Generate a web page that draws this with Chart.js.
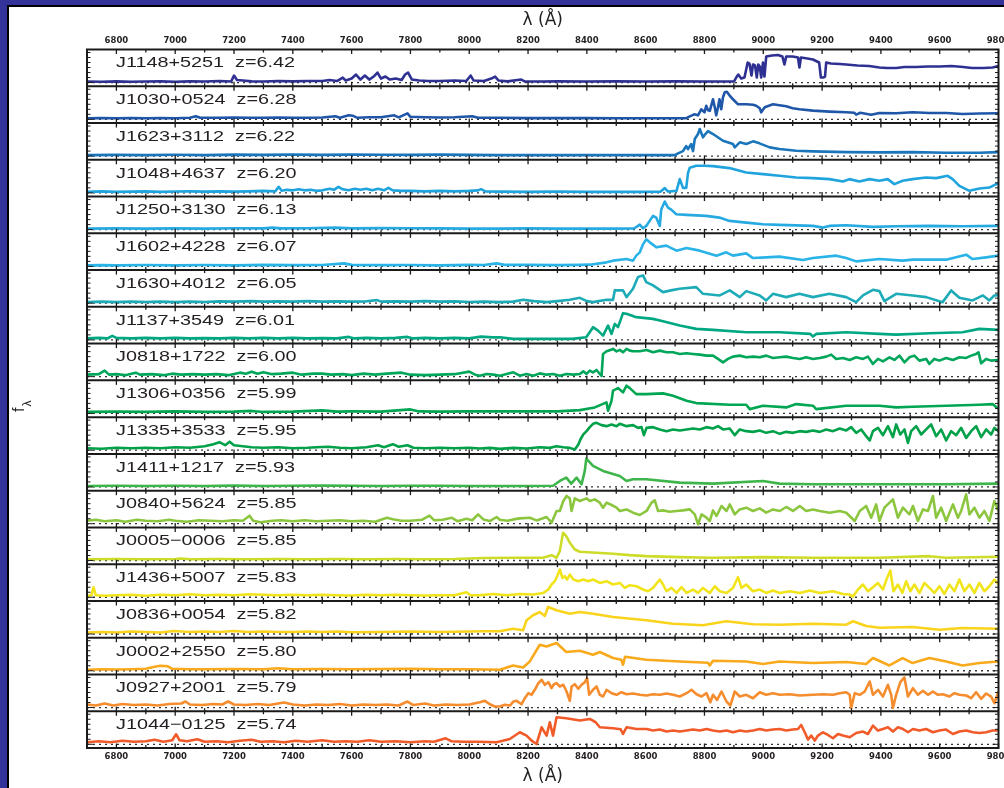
<!DOCTYPE html>
<html><head><meta charset="utf-8">
<script src="https://cdn.jsdelivr.net/npm/chart.js@4.4.1/dist/chart.umd.min.js"></script>
<style>
html,body{margin:0;padding:0;width:1004px;height:788px;overflow:hidden;background:#fff}
#frame{position:absolute;left:0;top:0;width:1004px;height:788px;background:#333399}
#inner{position:absolute;left:7px;top:5px;right:0;bottom:0;background:#fff;border-left:2px solid #000;border-top:2px solid #000}
#c{position:absolute;left:0;top:0}
</style></head>
<body><div id="frame"><div id="inner"></div></div>
<canvas id="c" width="1004" height="788"></canvas>
<script>
// ---- data ----
const tickValues = [6800,7000,7200,7400,7600,7800,8000,8200,8400,8600,8800,9000,9200,9400,9600,9800];
const quasarNames = ['J1148+5251','J1030+0524','J1623+3112','J1048+4637','J1250+3130','J1602+4228','J1630+4012','J1137+3549','J0818+1722','J1306+0356','J1335+3533','J1411+1217','J0840+5624','J0005\u22120006','J1436+5007','J0836+0054','J0002+2550','J0927+2001','J1044\u22120125'];
const redshifts = ['6.42','6.28','6.22','6.20','6.13','6.07','6.05','6.01','6.00','5.99','5.95','5.93','5.85','5.85','5.83','5.82','5.80','5.79','5.74'];
const lineColors = ['#2e3192','#1f56a8','#1b75bb','#20a4de','#27aae1','#29b3e6','#1eabb8','#00a882','#00a659','#00a651','#00a149','#3db54a','#8cc63f','#cddc29','#f2e41b','#fad31c','#f9a91c','#f58c2e','#f15a29'];

const J1148p5251 = [[6700,1],[6750,0.8],[6800,1.2],[6850,0.8],[6900,1],[6950,1.2],[7000,0.8],[7050,1.2],[7100,1],[7150,1.5],[7190,1],[7200,7],[7210,2.5],[7230,2],[7260,1.2],[7300,1],[7350,1.5],[7400,1.2],[7450,1.5],[7500,1.5],[7525,2.5],[7550,1.5],[7570,5],[7580,2],[7600,4],[7615,8],[7630,3],[7645,7],[7660,3],[7675,6],[7688,10],[7700,4],[7715,6],[7730,3],[7750,4],[7770,2.5],[7782,8],[7792,10],[7805,3],[7830,2],[7860,1.5],[7900,1.5],[7950,2],[7990,1.5],[8005,7],[8015,2],[8050,1.5],[8075,4],[8088,6],[8100,2],[8130,1.2],[8177,3],[8190,1],[8250,1],[8300,1.2],[8400,1],[8500,1.2],[8600,1],[8700,1.2],[8800,1],[8900,1],[8908,5],[8915,8],[8925,4],[8936,5],[8947,20],[8953,19],[8960,7],[8965,18],[8972,17],[8978,5],[8983,18],[8988,16],[8993,5],[8999,20],[9004,6],[9010,26],[9030,27],[9050,27.5],[9065,26],[9072,18],[9078,26],[9100,26],[9118,25],[9123,15],[9128,25],[9150,24],[9169,23],[9190,20],[9196,5],[9204,5],[9210,6],[9214,20],[9230,19],[9260,18.5],[9282,18],[9320,17],[9360,16.5],[9395,15],[9420,14.5],[9452,14.5],[9480,15.5],[9520,15.5],[9560,16],[9600,16],[9640,16.5],[9680,15.5],[9710,14.5],[9750,14.5],[9780,15],[9800,16.5]];
const J1030p0524 = [[6700,1],[6750,1.2],[6800,1],[6850,1.2],[6900,1],[6950,1.3],[7000,1],[7050,1.5],[7070,3],[7085,1.5],[7150,1.5],[7200,1.8],[7250,1.5],[7300,1.5],[7350,1.8],[7400,1.5],[7450,1.5],[7500,1.8],[7545,3],[7560,1.5],[7590,4],[7605,3.5],[7620,1.5],[7660,2],[7700,2],[7745,4],[7760,2],[7790,6],[7800,2.5],[7850,2],[7900,1.8],[7950,2],[8010,3],[8030,1.5],[8100,1.5],[8200,1.2],[8300,1.2],[8400,1.2],[8500,1],[8600,1],[8700,1],[8738,1.2],[8750,3],[8765,5],[8778,4],[8789,10],[8800,7],[8806,13.5],[8812,9],[8818,8.5],[8829,20],[8835,12],[8840,4],[8846,12],[8851,20],[8857,10],[8863,22],[8869,27],[8876,27.5],[8885,24],[8897,20],[8914,15],[8942,15],[8965,14.5],[8976,13.5],[8988,11],[8993,7],[9000,10],[9005,12],[9033,15],[9055,14],[9078,13],[9100,11],[9123,10],[9169,8.7],[9225,7.7],[9282,7],[9310,6.5],[9316,4.7],[9330,6.5],[9367,4.5],[9395,6.3],[9452,6],[9508,7],[9565,6.3],[9622,6.3],[9678,5.3],[9735,5.8],[9800,6]];
const J1623p3112 = [[6700,1],[6800,1.2],[6900,1],[7000,1.3],[7100,1],[7200,1.5],[7300,1.2],[7400,1.5],[7500,1.2],[7600,1.5],[7700,1.3],[7800,1.2],[7900,1.5],[8000,1.2],[8100,1],[8200,1],[8300,1],[8400,1],[8500,1],[8600,1],[8699,1],[8710,2.7],[8727,5],[8738,10],[8744,7],[8755,12],[8761,5],[8767,17],[8778,22],[8784,27],[8795,18.7],[8803,22],[8812,25],[8829,22],[8863,15.3],[8897,12],[8903,8.7],[8920,13.7],[8942,12],[8965,14.7],[8987,12.7],[9022,8.7],[9055,7],[9112,5.3],[9169,4.7],[9282,4],[9395,3.7],[9508,4],[9622,3.3],[9735,3.3],[9800,4]];
const J1048p4637 = [[6700,1],[6750,1.5],[6800,1],[6850,1.2],[6900,1.5],[6950,1],[7000,1.3],[7050,1.5],[7100,1.2],[7150,1.5],[7200,1.2],[7250,1.5],[7300,2],[7340,1.5],[7352,6],[7362,2],[7380,3],[7400,2.5],[7420,3.5],[7440,2.5],[7460,3],[7480,2],[7500,2.5],[7525,4],[7540,3],[7555,6],[7570,3.5],[7590,2.5],[7610,4],[7630,3],[7650,4],[7670,2.5],[7690,4],[7710,2.5],[7725,5],[7740,2.5],[7770,2],[7800,2],[7850,1.5],[7900,2],[7950,1.5],[8000,2],[8030,2.5],[8040,3.7],[8055,1.5],[8100,1.2],[8200,1],[8300,1.2],[8400,1],[8500,1],[8600,1],[8650,1.2],[8665,4.7],[8676,1.3],[8705,2],[8716,13.7],[8727,5],[8738,5],[8744,20],[8750,25],[8772,27],[8800,27],[8829,26.7],[8885,24.7],[8942,20.3],[8999,18.7],[9055,17],[9112,15.3],[9169,14.7],[9225,13.7],[9271,11.3],[9293,13.7],[9327,11.3],[9361,13.7],[9395,12],[9423,13.7],[9446,8.7],[9474,12],[9508,13.7],[9554,15.3],[9588,14.7],[9627,17],[9644,13.7],[9667,7],[9701,2],[9735,4.3],[9769,5.3],[9792,8.7],[9800,9]];
const J1250p3130 = [[6700,1],[6800,1.2],[6900,1],[7000,1.2],[7100,1],[7200,1.3],[7300,1.2],[7330,2],[7360,1.2],[7450,1.3],[7545,2],[7600,1.2],[7700,1.5],[7800,1.3],[7900,1.2],[8000,1],[8100,1],[8200,1.2],[8300,1],[8400,1],[8500,1],[8560,1.2],[8569,2.7],[8580,5],[8591,1.3],[8602,3.7],[8625,13.7],[8636,12],[8648,3.7],[8653,20],[8665,28],[8676,22],[8687,20],[8704,15.3],[8738,14.7],[8806,13.7],[8851,12],[8885,8.7],[8942,7],[8999,5.3],[9055,4.7],[9169,3.7],[9203,2],[9225,3.7],[9282,4.3],[9373,2.7],[9452,3.3],[9565,3.7],[9678,3.3],[9800,3.7]];
const J1602p4228 = [[6700,1],[6750,1.2],[6800,1],[6900,1.3],[7000,1],[7100,1.3],[7200,1],[7300,1.5],[7400,1.2],[7500,1.3],[7575,3],[7600,1.5],[7700,1.2],[7800,1.3],[7900,1],[8000,1.5],[8050,1.3],[8093,3],[8120,1.5],[8200,1.5],[8300,1.2],[8376,1.5],[8410,1.7],[8467,4],[8489,5.7],[8535,7.3],[8557,5.7],[8568,10.7],[8580,14],[8591,22],[8602,27],[8614,24],[8637,19],[8670,20.7],[8705,15.7],[8739,18.3],[8784,15.7],[8841,10.7],[8874,14],[8897,10.7],[8942,13],[8965,8.3],[9010,9],[9055,9.7],[9135,6.3],[9169,8.3],[9248,10.7],[9282,8.3],[9316,5],[9395,7.3],[9474,5.7],[9508,6.7],[9565,6.7],[9622,6.7],[9690,11.7],[9712,7.3],[9758,9],[9800,10.7]];
const J1630p4012 = [[6700,1],[6750,1.5],[6800,1],[6850,1.5],[6900,1.2],[6950,1.5],[7000,1],[7050,1.5],[7100,1.2],[7150,1.8],[7200,1.5],[7260,2],[7300,1.5],[7350,1.8],[7400,1.5],[7450,2],[7500,1.5],[7550,1.8],[7600,1.5],[7650,1.8],[7687,3],[7700,1.5],[7750,1.8],[7800,1.5],[7850,2],[7900,1.5],[7950,1.8],[8000,1.2],[8050,1.5],[8100,1],[8150,1.5],[8183,3.3],[8220,2],[8263,1],[8300,2],[8342,3.3],[8376,5.3],[8400,2],[8421,1],[8467,3.3],[8489,3.3],[8495,12.7],[8523,12.7],[8535,6],[8557,14.3],[8574,26],[8591,27.7],[8602,21],[8625,17.7],[8659,11],[8690,13],[8716,14.3],[8772,16],[8795,9.3],[8852,7.7],[8886,12.7],[8920,6],[8942,12],[8988,7.7],[9010,2.7],[9033,9.3],[9078,6],[9123,9.3],[9169,6],[9225,9.3],[9282,6],[9316,1],[9339,7.7],[9373,13.3],[9395,12],[9412,2],[9452,9.3],[9508,7.7],[9554,6],[9610,1],[9639,12.7],[9667,5.3],[9712,2.7],[9747,7.7],[9769,2.7],[9786,7.7],[9800,8]];
const J1137p3549 = [[6700,1.5],[6740,2],[6770,1.5],[6786,4],[6800,2],[6850,1.5],[6900,2],[6950,1.5],[7000,2],[7050,1.5],[7100,1.8],[7150,1.5],[7200,2],[7250,1.5],[7300,2],[7350,1.5],[7400,2],[7450,1.5],[7500,1.8],[7550,1.5],[7590,3],[7610,1.5],[7650,2],[7700,1.5],[7750,2],[7790,3],[7810,1.5],[7850,2],[7900,1.5],[7950,2],[8000,1.5],[8040,3.3],[8080,2.5],[8104,2.7],[8150,1],[8250,1],[8350,1],[8398,2.7],[8421,12.7],[8438,9.3],[8455,4.3],[8472,14.3],[8484,6],[8495,16],[8506,12.7],[8523,26.7],[8535,26],[8568,22.7],[8625,21],[8659,18.7],[8716,14.3],[8772,11],[8829,10],[8942,7.7],[9055,7.7],[9160,6],[9169,3.3],[9180,6],[9282,7.7],[9395,6],[9452,5.3],[9565,6.7],[9678,7.7],[9735,11],[9800,10]];
const J0818p1722 = [[6700,2],[6740,2.5],[6760,6],[6775,2],[6800,2.5],[6830,1.5],[6866,4],[6880,2],[6920,2.5],[6960,1.5],[6990,3],[7020,2],[7060,2.5],[7100,2],[7140,2.5],[7180,1.5],[7220,4],[7240,3],[7260,5],[7280,3],[7300,4.5],[7330,2.5],[7360,3],[7400,4],[7430,2],[7470,3],[7500,3],[7530,2],[7570,2.5],[7600,1.5],[7640,3],[7680,2],[7720,3],[7770,4],[7800,2],[7850,1.5],[7900,2],[7950,2.5],[8000,5],[8020,2],[8036,1],[8059,2.7],[8082,2],[8104,1],[8127,2.7],[8150,4.3],[8172,1],[8195,2.7],[8218,1],[8240,3.3],[8263,2],[8286,2.7],[8308,1],[8331,2.7],[8354,2],[8376,2.7],[8388,5.3],[8399,2.7],[8410,6],[8421,4.3],[8433,6.7],[8444,2.7],[8450,0.7],[8455,22.7],[8467,25.3],[8480,26.7],[8489,27.7],[8501,25.3],[8512,26.7],[8523,24.3],[8535,27.7],[8546,26],[8557,25.3],[8580,25.3],[8603,26.7],[8625,24.3],[8648,26],[8671,24.3],[8693,24.3],[8716,22.7],[8739,23.3],[8761,22.7],[8784,22],[8807,21],[8829,21],[8846,17.7],[8863,14.3],[8880,17.7],[8897,20],[8920,21],[8942,19.3],[8965,20],[8988,19.3],[9010,21],[9033,18.7],[9056,19.3],[9078,20],[9101,18.7],[9124,17.7],[9146,19.3],[9169,17.7],[9192,18.7],[9214,20],[9231,22],[9248,17.7],[9271,18.7],[9294,16.7],[9316,19.3],[9339,17.7],[9356,20],[9373,12.7],[9390,17.7],[9407,15.3],[9429,19.3],[9446,16.7],[9463,21],[9480,14.3],[9497,19.3],[9514,21],[9531,16],[9554,17.7],[9565,12.7],[9582,17.7],[9599,16],[9622,18.7],[9645,16.7],[9667,19.3],[9690,18.7],[9707,21],[9724,22.7],[9732,24.3],[9741,13.3],[9758,17.7],[9775,16],[9800,16.7]];
const J1306p0356 = [[6700,1.5],[6800,1.8],[6900,1.5],[7000,2],[7100,1.5],[7200,1.8],[7260,2.5],[7300,1.5],[7400,1.8],[7500,3],[7550,1.8],[7600,2],[7700,1.8],[7800,4],[7830,2],[7900,1.8],[8000,2],[8100,2],[8200,2],[8300,2],[8376,3.3],[8427,6],[8467,11],[8472,2.7],[8484,12.7],[8489,22.7],[8506,25.3],[8523,21],[8535,27.7],[8546,25.3],[8568,19.3],[8602,19.3],[8659,20],[8693,17.7],[8739,12.7],[8772,10.3],[8886,8.7],[8942,8.7],[8954,4.3],[8999,7.7],[9078,6],[9112,9.3],[9169,7.7],[9180,4.3],[9282,7.7],[9395,7.7],[9452,6],[9508,6.7],[9622,7.7],[9735,8.7],[9780,9.3],[9800,4.3]];
const J1335p3533 = [[6700,2],[6750,1.5],[6800,2.5],[6850,2],[6900,2.5],[6950,2],[7000,3],[7050,2.5],[7100,4],[7130,6],[7150,8],[7170,5],[7185,8.5],[7200,5],[7230,4],[7260,3],[7300,2.5],[7350,3],[7400,2],[7450,2.5],[7480,3],[7520,3.5],[7560,2.5],[7600,2],[7650,3],[7690,5],[7710,3],[7740,6],[7760,3.5],[7790,5],[7810,2.5],[7850,2],[7900,2.5],[7950,2],[8000,2.5],[8036,1.7],[8070,2.3],[8104,1.3],[8150,2.3],[8195,1.7],[8240,3],[8274,2.3],[8297,4],[8320,3],[8342,2.3],[8359,0.7],[8371,5.7],[8378,10.7],[8388,15.7],[8399,19],[8410,23],[8421,26.3],[8433,27.3],[8450,25],[8467,24],[8484,25.7],[8501,24],[8512,26.3],[8535,24],[8557,25],[8574,22.3],[8586,23],[8594,15],[8603,22.3],[8625,23],[8648,20.7],[8671,19],[8693,20.7],[8716,19.7],[8739,20.7],[8761,21.7],[8784,20.7],[8807,23],[8829,21.7],[8846,24],[8863,20.7],[8886,21.7],[8903,15],[8920,20.7],[8942,19],[8965,18.3],[8988,19.7],[9010,17.3],[9033,19],[9056,16.3],[9078,18.3],[9101,17.3],[9124,19],[9146,18.3],[9169,19.7],[9192,18.3],[9214,20.7],[9237,19],[9260,21.7],[9282,19.7],[9299,23],[9316,17.3],[9333,20.7],[9350,14],[9362,9.7],[9373,19],[9390,22.3],[9407,15],[9424,24],[9441,13],[9452,25.7],[9466,15.7],[9480,20.7],[9492,7.3],[9503,19],[9520,24],[9537,15.7],[9554,20.7],[9571,25.7],[9588,14],[9605,20.7],[9622,9.7],[9639,19],[9656,15],[9673,22.3],[9690,12.3],[9707,19],[9724,24],[9741,13],[9758,20.7],[9775,15.7],[9786,22.3],[9800,19]];
const J1411p1217 = [[6700,1],[6800,1.2],[6900,1],[7000,1.2],[7100,1],[7200,1.3],[7300,1],[7400,1.2],[7500,1.3],[7600,1.2],[7700,1],[7800,1.2],[7900,1.2],[8000,1],[8100,1],[8200,1],[8285,1.2],[8308,6],[8330,9.3],[8347,3.3],[8365,9.3],[8382,2.7],[8393,16],[8398,28.3],[8421,21],[8455,16],[8512,11],[8535,6],[8557,7.7],[8602,7.7],[8716,4.3],[8829,3.3],[8999,6],[9055,3.3],[9169,2.7],[9395,2.7],[9622,2.7],[9800,3.3]];
const J0840p5624 = [[6700,3],[6730,4],[6760,2.5],[6800,3.5],[6830,2],[6870,4],[6900,3],[6940,2.5],[6980,4],[7000,3],[7040,2],[7080,3.5],[7120,3],[7160,2.5],[7200,3.5],[7230,3],[7253,8],[7265,3],[7290,1.5],[7330,3],[7360,3.5],[7400,2.5],[7440,3.5],[7480,2.5],[7520,3],[7560,3.5],[7600,2.5],[7640,3],[7680,2],[7720,6],[7740,4.5],[7770,3],[7800,3],[7840,4],[7865,8],[7880,3.5],[7910,4],[7940,6],[7960,2.5],[7990,5],[8010,3.5],[8030,9.3],[8048,4.3],[8070,2.7],[8093,6.7],[8104,4],[8130,3],[8150,4.3],[8172,5.3],[8206,6],[8229,3.3],[8263,6.7],[8280,1],[8297,12.7],[8308,12.7],[8320,22.7],[8331,27.7],[8342,25.3],[8348,12.7],[8359,25.3],[8376,22.7],[8399,25.3],[8410,22.7],[8427,24.3],[8444,21],[8455,16],[8467,21],[8484,18.7],[8501,16],[8512,12.7],[8535,14.3],[8557,11],[8580,8.7],[8603,12.7],[8620,21],[8631,23.3],[8642,12.7],[8659,13.3],[8682,12],[8705,12.7],[8727,13.3],[8750,14.3],[8767,9.3],[8778,-0.5],[8790,9.3],[8807,6],[8818,2.7],[8829,13.3],[8841,7.7],[8858,17.7],[8875,12.7],[8886,19.3],[8903,9.3],[8920,14.3],[8942,16],[8965,12.7],[8988,15.3],[9010,11],[9033,14.3],[9056,12.7],[9078,16.7],[9101,12.7],[9124,17.7],[9146,12.7],[9169,14.3],[9192,12.7],[9226,11],[9260,12.7],[9282,11],[9311,2.7],[9328,12.7],[9350,17.7],[9367,6],[9384,19.3],[9395,2.7],[9412,16],[9441,24.3],[9458,6],[9475,16],[9497,9.3],[9509,17.7],[9526,2.7],[9543,14.3],[9560,12.7],[9577,27.7],[9588,6],[9605,16],[9622,2.7],[9645,19.3],[9662,6],[9673,12.7],[9690,29.3],[9701,9.3],[9718,16],[9735,6],[9752,12.7],[9769,2.7],[9786,22.7],[9800,12.7]];
const J0005m0006 = [[6700,1.2],[6800,1.5],[6900,1.2],[7000,1.5],[7020,2],[7050,1.2],[7150,1.5],[7250,1.2],[7350,1.5],[7450,1.2],[7550,1.5],[7650,1.2],[7750,1.5],[7850,1.2],[7950,1.5],[8050,2.5],[8150,2.7],[8250,2.7],[8280,5.3],[8297,2.7],[8308,9.3],[8319,27.7],[8330,24.3],[8342,17.7],[8359,11],[8376,8.7],[8433,7.7],[8489,6.7],[8546,5.3],[8602,4.3],[8716,3.3],[8829,2.7],[8999,3.3],[9169,2.7],[9395,2.7],[9565,4.3],[9622,2.7],[9800,3.7]];
const J1436p5007 = [[6700,1.5],[6715,2],[6722,10],[6730,2],[6760,1.5],[6800,2],[6850,2.5],[6900,1.5],[6950,2.5],[7000,2],[7050,3],[7100,2],[7150,2.5],[7200,2],[7250,3],[7300,2.5],[7350,2],[7400,2.5],[7450,2],[7500,2.5],[7550,2],[7600,1.8],[7650,2.5],[7700,2],[7750,2.5],[7800,2],[7850,1.8],[7900,2],[7950,2],[7990,5],[8005,2],[8036,2],[8082,3.3],[8127,2],[8172,3.3],[8218,2.7],[8252,4.3],[8269,7.7],[8280,12.7],[8291,16],[8299,21],[8308,27.7],[8317,19.3],[8325,21],[8333,17.7],[8342,22.7],[8354,17.7],[8371,16],[8388,17.7],[8405,16],[8421,17.7],[8444,14.3],[8467,16],[8489,12.7],[8512,14.3],[8529,9.3],[8546,12],[8569,11],[8591,7.7],[8608,6],[8625,9.3],[8648,17.7],[8659,12.7],[8671,6],[8688,9.3],[8705,4.3],[8722,10],[8739,4.3],[8761,7.7],[8778,4.3],[8795,9.3],[8818,4.3],[8835,11],[8852,6],[8875,4.3],[8897,9.3],[8914,20],[8926,9.3],[8942,12.7],[8965,6],[8988,7.7],[9010,4.3],[9033,6.7],[9056,4.3],[9090,6],[9124,4.3],[9158,6.7],[9192,4.3],[9237,6],[9271,3.3],[9294,2.7],[9305,0.7],[9322,7.7],[9339,12.7],[9356,6],[9373,10],[9390,14.3],[9407,7.7],[9421,19.3],[9432,26.7],[9443,6],[9458,12.7],[9473,4.3],[9486,16],[9500,6],[9514,12.7],[9531,4.3],[9548,14.3],[9565,9.3],[9582,4.3],[9599,11],[9616,3.3],[9633,12.7],[9650,6],[9667,17.7],[9684,6],[9701,12.7],[9718,4.3],[9735,14.3],[9752,6],[9769,11],[9786,17.7],[9800,12.7]];
const J0836p0054 = [[6700,1.5],[6750,2],[6800,1.5],[6850,2.5],[6900,2],[6950,1.5],[6995,3],[7050,2],[7100,2.5],[7150,2],[7200,3],[7250,2],[7300,2.5],[7350,2],[7400,2],[7450,2.5],[7500,2],[7550,2.5],[7600,1.8],[7700,2],[7800,2.5],[7900,2],[8000,2.5],[8050,2.7],[8104,2.7],[8149,5.3],[8183,3.7],[8195,13.7],[8217,18.7],[8240,22],[8257,18],[8268,27],[8297,23.7],[8342,20.3],[8376,22],[8421,20.3],[8489,17],[8602,13.7],[8693,10.3],[8795,8.7],[8874,12.7],[8965,9.7],[9055,9.3],[9169,10.3],[9282,9.3],[9305,12.7],[9350,8],[9395,6.3],[9508,7],[9599,4.3],[9678,6],[9800,5.3]];
const J0002p2550 = [[6700,1],[6750,1.5],[6800,1.2],[6850,1.5],[6900,2],[6930,4],[6950,5],[6975,4.5],[6990,2],[7050,1.5],[7100,1.5],[7200,1.8],[7300,1.5],[7350,2.5],[7400,1.5],[7500,1.8],[7600,1.5],[7700,1.8],[7800,2],[7900,1.5],[8000,1.5],[8050,1.2],[8104,1],[8149,5.3],[8183,3.3],[8206,9.3],[8240,26],[8263,24.3],[8297,27.7],[8330,18.7],[8376,20],[8421,16],[8444,18.7],[8489,12.7],[8517,11],[8523,6],[8530,14],[8602,11],[8716,9.3],[8812,8],[8818,5.3],[8829,10],[8942,9.3],[8999,6.7],[9055,9.3],[9169,7.7],[9282,8.7],[9350,6.7],[9373,12.7],[9429,5.3],[9474,12.7],[9508,7.7],[9565,12.7],[9622,9.3],[9678,5.3],[9735,7.7],[9800,9.3]];
const J0927p2001 = [[6700,3],[6730,2],[6760,4],[6790,2],[6820,3.5],[6860,2.5],[6900,3],[6940,2],[6980,3.5],[7020,4],[7035,6],[7050,3],[7090,2.5],[7130,3.5],[7160,3],[7180,6],[7200,3],[7240,2.5],[7280,3.5],[7320,2.5],[7370,5],[7400,3],[7440,2],[7480,3],[7520,2.5],[7560,3.5],[7600,2],[7640,3],[7680,2.5],[7720,3],[7760,2],[7790,6],[7810,2.5],[7850,4],[7880,2],[7920,3],[7960,2.5],[8000,3],[8036,5.3],[8053,6.7],[8070,3.3],[8087,1],[8104,1],[8121,2.7],[8138,2],[8150,6],[8161,6.7],[8178,3.3],[8189,9.3],[8201,14.3],[8212,12.7],[8223,17.7],[8235,24.3],[8246,27.7],[8257,22.7],[8269,25.3],[8280,19.3],[8288,23.3],[8297,24.3],[8308,21],[8320,22.7],[8331,16],[8342,6.7],[8348,21],[8359,23.3],[8371,18.7],[8382,22.7],[8393,25.3],[8401,29.3],[8408,12.7],[8421,17.7],[8433,21],[8444,12.7],[8455,11],[8467,17.7],[8484,14.3],[8501,12.7],[8518,15.3],[8535,13.3],[8557,14],[8580,12.7],[8603,12],[8625,13.3],[8648,12.7],[8671,14],[8693,12.7],[8716,11],[8739,14.3],[8756,17.7],[8773,13.3],[8790,11],[8807,14.3],[8820,5.3],[8829,12.7],[8843,7.7],[8858,16],[8875,6],[8888,2],[8903,16],[8920,11],[8942,12.7],[8965,9.3],[8988,15.3],[9010,12.7],[9033,14.3],[9056,12.7],[9090,13.3],[9124,12],[9169,12.7],[9203,13.3],[9237,12.7],[9260,14.3],[9282,15.3],[9294,12.7],[9299,-0.5],[9311,14.3],[9328,12.7],[9345,16],[9362,26],[9373,12.7],[9390,17.7],[9407,11],[9424,22.7],[9435,12.7],[9441,-0.5],[9452,12.7],[9466,25.3],[9480,30],[9492,11],[9509,19.3],[9526,12.7],[9543,16.7],[9560,12.7],[9577,16],[9594,12.7],[9611,13.3],[9633,11],[9650,14.3],[9667,12.7],[9690,12],[9707,9.3],[9724,15.3],[9741,8.7],[9758,14],[9775,11],[9786,4.3],[9800,16]];
const J1044m0125 = [[6700,2],[6740,3],[6780,2],[6820,3.5],[6860,2.5],[6900,3],[6930,4.5],[6960,2.5],[6990,4],[7003,10],[7015,4],[7040,3],[7075,5],[7100,2.5],[7140,3],[7180,2],[7220,3.5],[7260,4.5],[7290,2.5],[7330,3],[7370,2],[7410,3.5],[7450,2.5],[7500,4],[7540,2.5],[7580,3],[7620,2.5],[7660,4],[7700,2.5],[7750,3],[7800,2],[7850,3],[7880,2.5],[7920,6],[7940,3],[7980,2.5],[8030,2.5],[8093,2],[8138,5.3],[8172,12],[8195,8.7],[8212,3.7],[8229,0.3],[8246,17],[8263,8.7],[8274,22],[8285,8.7],[8297,27],[8330,26],[8376,23.7],[8410,25.3],[8430,22],[8444,17],[8489,16],[8515,15],[8523,10.3],[8535,17],[8569,15.3],[8603,15.3],[8625,13.7],[8648,14.7],[8671,12.7],[8693,13.7],[8716,12.7],[8739,13.7],[8761,14.7],[8784,13.7],[8807,15.3],[8829,13.7],[8852,12.7],[8875,13.7],[8897,12],[8920,13.7],[8942,12.7],[8965,13.7],[8988,15.3],[9010,13.7],[9033,14.7],[9056,15.3],[9078,13.7],[9101,14.7],[9118,15.3],[9129,19.3],[9141,12],[9152,4.7],[9163,8.7],[9175,3.7],[9186,8.7],[9203,12],[9220,9.3],[9237,6],[9254,10.3],[9271,8.7],[9294,7],[9316,11.3],[9339,12.7],[9356,10.3],[9373,18.7],[9390,13.7],[9407,15.3],[9424,17],[9441,12.7],[9458,17],[9475,15.3],[9492,12],[9509,15.3],[9531,13.7],[9554,15.3],[9577,12],[9599,13.7],[9622,14.7],[9645,10.3],[9667,12.7],[9690,13.7],[9713,12],[9735,11.3],[9758,12],[9780,13.7],[9800,13.7]];

const spectra = [J1148p5251,J1030p0524,J1623p3112,J1048p4637,J1250p3130,J1602p4228,J1630p4012,J1137p3549,J0818p1722,J1306p0356,J1335p3533,J1411p1217,J0840p5624,J0005m0006,J1436p5007,J0836p0054,J0002p2550,J0927p2001,J1044m0125];
const zeroLine = [[6700,0],[9800,0]];

// ---- chart ----
const INK = '#231f20';
const datasets = [];
spectra.forEach((s, i) => {
  datasets.push({data: s, xAxisID: 'x', yAxisID: 'y' + i, borderColor: lineColors[i], borderWidth: 2.6,
    pointRadius: 0, tension: 0, fill: false, order: 0, borderJoinStyle: 'round'});
  datasets.push({data: zeroLine, xAxisID: 'x', yAxisID: 'y' + i, borderColor: '#333', borderWidth: 1.3,
    borderDash: [2, 4], pointRadius: 0, fill: false, order: 1});
});

function xAxis(pos) {
  return {
    type: 'linear', position: pos, min: 6700, max: 9800, offset: false,
    afterBuildTicks: s => { s.ticks = tickValues.map(v => ({value: v})); },
    afterFit: s => { s.height = pos === 'top' ? 49.5 : 40; s.paddingLeft = 0; s.paddingRight = 0; },
    grid: {display: false, drawTicks: false},
    border: {display: false},
    ticks: {padding: 4, autoSkip: false, maxRotation: 0, minRotation: 0, callback: v => String(v),
      color: INK, font: {family: 'DejaVu Sans', weight: 'bold', size: 8.5}},
    title: {display: true, text: 'λ (Å)', color: INK, font: {family: 'DejaVu Sans', size: 17},
      padding: pos === 'top' ? {top: 10.5, bottom: 0} : {top: 0, bottom: 1.2}}
  };
}
const scales = {x: xAxis('bottom'), x2: xAxis('top')};
spectra.forEach((s, i) => {
  scales['y' + i] = {type: 'linear', display: false, position: 'left', stack: 'panels', stackWeight: 1,
    weight: spectra.length - i, min: -3.7, max: 33};
});

const framePlugin = {
  id: 'framePlugin',
  afterDatasetsDraw(chart) {
    const {ctx, chartArea: a, scales: sc} = chart;
    const xs = sc.x;
    const n = spectra.length;
    ctx.save();
    ctx.strokeStyle = '#1a1a1a';
    ctx.lineWidth = 2;
    ctx.strokeRect(a.left, a.top, a.right - a.left, a.bottom - a.top);
    const bounds = [];
    for (let i = 0; i < n; i++) bounds.push(sc['y' + i].top);
    bounds.push(a.bottom);
    for (let i = 1; i < n; i++) {
      ctx.beginPath(); ctx.moveTo(a.left, bounds[i]); ctx.lineTo(a.right, bounds[i]); ctx.stroke();
    }
    ctx.lineWidth = 1.3;
    const tickList = [];
    tickValues.forEach(v => { tickList.push([v, true]); if (v - 100 > 6700) tickList.push([v - 100, false]); });
    bounds.forEach((yb, bi) => {
      tickList.forEach(([v, major]) => {
        const px = xs.getPixelForValue(v);
        const L = major ? 4.5 : 3;
        const up = bi === 0 ? 0 : L;
        const down = bi === n ? 0 : L;
        ctx.beginPath(); ctx.moveTo(px, yb - up); ctx.lineTo(px, yb + down); ctx.stroke();
      });
    });
    ctx.lineWidth = 1;
    for (let i = 0; i < n; i++) {
      const ys = sc['y' + i];
      [0, 5, 10, 15, 20, 25, 30].forEach(v => {
        const py = ys.getPixelForValue(v);
        const L = v === 0 ? 6 : 3.5;
        ctx.beginPath();
        ctx.moveTo(a.left, py); ctx.lineTo(a.left + L, py);
        ctx.moveTo(a.right, py); ctx.lineTo(a.right - L, py);
        ctx.stroke();
      });
    }
    ctx.fillStyle = INK;
    ctx.font = '15px "Liberation Sans", Arial, sans-serif';
    ctx.textBaseline = 'alphabetic';
    ctx.textAlign = 'left';
    for (let i = 0; i < n; i++) {
      const ys = sc['y' + i];
      ctx.save();
      ctx.translate(a.left + 29, ys.top + 17.8);
      ctx.scale(1.32, 1);
      ctx.fillText(quasarNames[i] + '  z=' + redshifts[i], 0, 0);
      ctx.restore();
    }
    // y title f_λ
    ctx.save();
    ctx.translate(24, 412);
    ctx.rotate(-Math.PI / 2);
    ctx.font = '16px "Liberation Sans", Arial, sans-serif';
    ctx.fillText('f', 0, 0);
    const fw = ctx.measureText('f').width;
    ctx.font = '12px "Liberation Sans", Arial, sans-serif';
    ctx.fillText('λ', fw + 1, 7);
    ctx.restore();
    ctx.restore();
  }
};

new Chart(document.getElementById('c'), {
  type: 'line',
  data: {datasets},
  options: {
    responsive: false, animation: false, devicePixelRatio: 1, events: [],
    layout: {padding: {left: 87, right: 5.5, top: 0, bottom: 0}},
    plugins: {legend: {display: false}, tooltip: {enabled: false}, title: {display: false}},
    scales
  },
  plugins: [framePlugin]
});
</script>
</body></html>
